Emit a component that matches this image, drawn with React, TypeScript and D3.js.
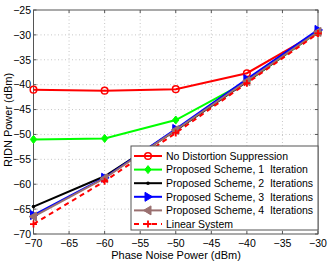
import { useEffect, useRef } from 'react';
import * as d3 from 'd3';

const phaseNoise = [-70, -60, -50, -40, -30];
const noSuppression = [-41.0, -41.2, -40.9, -37.7, -29.5];
const oneIteration = [-51.0, -50.8, -47.1, -39.4, -29.4];
const twoIterations = [-64.5, -58.4, -49.2, -39.4, -29.3];
const threeIterations = [-66.2, -58.7, -48.9, -38.9, -29.0];
const fourIterations = [-66.5, -58.8, -49.1, -39.3, -29.4];
const linearSystem = [-68.0, -59.4, -49.7, -39.7, -29.7];

const xTicks = [-70, -65, -60, -55, -50, -45, -40, -35, -30];
const yTicks = [-70, -65, -60, -55, -50, -45, -40, -35, -30, -25];

interface Series {
  name: string;
  values: number[];
  color: string;
  marker: string;
  dashed?: boolean;
}

const seriesList: Series[] = [
  { name: 'No Distortion Suppression', values: noSuppression, color: '#ff0000', marker: 'circle' },
  { name: 'Proposed Scheme, 1  Iteration', values: oneIteration, color: '#00ff00', marker: 'diamond' },
  { name: 'Proposed Scheme, 2  Iterations', values: twoIterations, color: '#000000', marker: 'dot' },
  { name: 'Proposed Scheme, 3  Iterations', values: threeIterations, color: '#0000ff', marker: 'triRight' },
  { name: 'Proposed Scheme, 4  Iterations', values: fourIterations, color: '#9a7070', marker: 'triLeft' },
  { name: 'Linear System', values: linearSystem, color: '#ff0000', marker: 'plus', dashed: true }
];

function drawMarker(g: d3.Selection<SVGGElement, unknown, null, undefined>, kind: string, x: number, y: number, color: string) {
  if (kind === 'circle') {
    g.append('circle').attr('cx', x).attr('cy', y).attr('r', 3.3)
      .style('fill', 'none').style('stroke', color).style('stroke-width', 1.5);
  } else if (kind === 'diamond') {
    g.append('path').attr('d', `M${x},${y - 4}L${x + 3.2},${y}L${x},${y + 4}L${x - 3.2},${y}Z`)
      .style('fill', color).style('stroke', color).style('stroke-width', 1);
  } else if (kind === 'dot') {
    g.append('circle').attr('cx', x).attr('cy', y).attr('r', 1.8).style('fill', color);
  } else if (kind === 'triRight') {
    g.append('path').attr('d', `M${x + 4.5},${y}L${x - 3},${y - 4.5}L${x - 3},${y + 4.5}Z`)
      .style('fill', color).style('stroke', color).style('stroke-width', 1);
  } else if (kind === 'triLeft') {
    g.append('path').attr('d', `M${x - 4.5},${y}L${x + 3},${y - 4.5}L${x + 3},${y + 4.5}Z`)
      .style('fill', color).style('stroke', color).style('stroke-width', 1);
  } else if (kind === 'plus') {
    g.append('path').attr('d', `M${x - 3.5},${y}H${x + 3.5}M${x},${y - 3.5}V${y + 3.5}`)
      .style('fill', 'none').style('stroke', color).style('stroke-width', 1.8);
  }
}

export default function App() {
  const svgRef = useRef<SVGSVGElement>(null);

  useEffect(() => {
    if (!svgRef.current) return;
    const width = 329;
    const height = 264;
    const margin = { top: 10, right: 11, bottom: 30, left: 33.5 };

    d3.select(svgRef.current).selectAll('*').remove();
    const svg = d3.select(svgRef.current).attr('width', width).attr('height', height);
    const font = 'Liberation Sans, Arial, sans-serif';

    const x = d3.scaleLinear().domain([-70, -30]).range([margin.left, width - margin.right]);
    const y = d3.scaleLinear().domain([-70, -25]).range([height - margin.bottom, margin.top]);

    svg.append('rect').attr('width', width).attr('height', height).style('fill', '#fff');

    // Grid
    const grid = svg.append('g');
    xTicks.slice(1, -1).forEach((t) => {
      grid.append('line').attr('x1', x(t)).attr('x2', x(t)).attr('y1', y(-70)).attr('y2', y(-25))
        .style('stroke', '#b8b8b8').style('stroke-width', 0.8).style('stroke-dasharray', '1,2.5');
    });
    yTicks.slice(1, -1).forEach((t) => {
      grid.append('line').attr('x1', x(-70)).attr('x2', x(-30)).attr('y1', y(t)).attr('y2', y(t))
        .style('stroke', '#b8b8b8').style('stroke-width', 0.8).style('stroke-dasharray', '1,2.5');
    });

    // Axes box and ticks
    const axes = svg.append('g');
    axes.append('rect').attr('x', x(-70)).attr('y', y(-25))
      .attr('width', x(-30) - x(-70)).attr('height', y(-70) - y(-25))
      .style('fill', 'none').style('stroke', '#555').style('stroke-width', 1);
    xTicks.forEach((t) => {
      axes.append('line').attr('x1', x(t)).attr('x2', x(t)).attr('y1', y(-70)).attr('y2', y(-70) - 3).style('stroke', '#555');
      axes.append('line').attr('x1', x(t)).attr('x2', x(t)).attr('y1', y(-25)).attr('y2', y(-25) + 3).style('stroke', '#555');
      axes.append('text').attr('x', x(t)).attr('y', y(-70) + 12.5).text(String(t).replace('-', '\u2212'))
        .style('text-anchor', 'middle').style('font-size', '10.5px').style('font-family', font).style('fill', '#000');
    });
    yTicks.forEach((t) => {
      axes.append('line').attr('x1', x(-70)).attr('x2', x(-70) + 3).attr('y1', y(t)).attr('y2', y(t)).style('stroke', '#555');
      axes.append('line').attr('x1', x(-30)).attr('x2', x(-30) - 3).attr('y1', y(t)).attr('y2', y(t)).style('stroke', '#555');
      axes.append('text').attr('x', x(-70) - 2.5).attr('y', y(t) + 3.8).text(String(t).replace('-', '\u2212'))
        .style('text-anchor', 'end').style('font-size', '10.5px').style('font-family', font).style('fill', '#000');
    });

    svg.append('text').attr('x', 176).attr('y', 258.5)
      .text('Phase Noise Power (dBm)').style('text-anchor', 'middle')
      .style('font-size', '11px').style('font-family', font);
    svg.append('text').attr('transform', `translate(12,${120}) rotate(-90)`)
      .text('RIDN Power (dBm)').style('text-anchor', 'middle')
      .style('font-size', '11px').style('font-family', font);

    // Series
    const line = d3.line<number>().x((_, i) => x(phaseNoise[i])).y((d) => y(d));
    seriesList.forEach((s) => {
      const g = svg.append('g');
      g.append('path').datum(s.values).attr('d', line)
        .style('fill', 'none').style('stroke', s.color).style('stroke-width', 2)
        .style('stroke-dasharray', s.dashed ? '5,4' : null);
      s.values.forEach((v, i) => drawMarker(g, s.marker, x(phaseNoise[i]), y(v), s.color));
    });

    // Legend
    const lg = svg.append('g');
    lg.append('rect').attr('x', 131).attr('y', 146).attr('width', 187).attr('height', 84)
      .style('fill', '#fff').style('stroke', '#555').style('stroke-width', 1);
    seriesList.forEach((s, i) => {
      const cy = 156 + i * 13.6;
      const g = lg.append('g');
      g.append('line').attr('x1', 134).attr('x2', 162).attr('y1', cy).attr('y2', cy)
        .style('stroke', s.color).style('stroke-width', 2).style('stroke-dasharray', s.dashed ? '5,4' : null);
      drawMarker(g, s.marker, 148, cy, s.color);
      g.append('text').attr('x', 166).attr('y', cy + 3.8).text(s.name)
        .style('white-space', 'pre')
        .style('font-size', '10.5px').style('font-family', font).style('fill', '#000');
    });
  }, []);

  return <svg ref={svgRef} style={{ position: 'absolute', left: 0, top: 0 }} />;
}
